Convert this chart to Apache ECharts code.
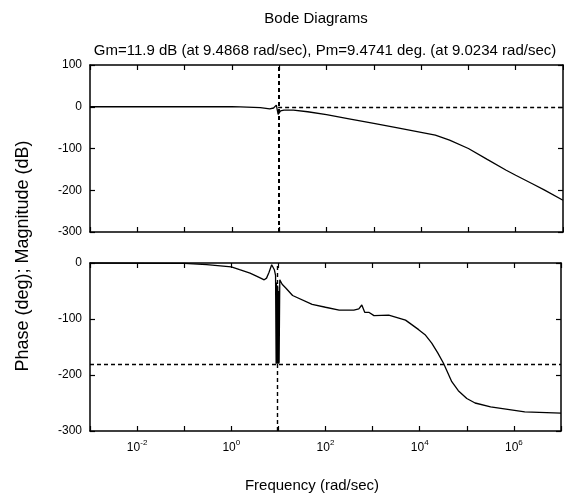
<!DOCTYPE html>
<html>
<head>
    <meta charset="utf-8">
    <title>Bode Diagrams</title>
    <script src="https://cdn.jsdelivr.net/npm/echarts@6/dist/echarts.min.js"></script>
    <style>
        html, body { margin: 0; padding: 0; background: #fff; }
        #container { width: 564px; height: 496px; }
    </style>
</head>
<body>
<div id="container"></div>
<script type="text/javascript">
    // magnitude curve (rad/sec, dB)
    var magFreq = [0.001, 0.1, 1, 1.5, 4, 6.3, 7.6, 8.7, 9.1, 9.5, 10, 10.7, 12.6, 20, 40, 100, 300, 1000, 3000, 2e4, 4e4, 1e5, 2.5e5, 6.3e5, 1e6, 2.3e6, 4e6, 1e7];
    var magDb = [0, 0, 0, -0.5, -2, -5, -3, 4, 5, -18, -14, -10, -8, -8, -12, -19, -29, -40, -50, -68, -80, -100, -126, -152, -164, -185, -199, -224];

    // phase curve (rad/sec, deg) - the wrap near 9.5 rad/sec is drawn as a dense zigzag
    var phaseFreq = [0.001, 0.1, 0.3, 1, 1.5, 2.5, 4, 5, 5.6, 6.3, 7.2, 7.5, 8.2, 8.7,
        8.95, 9.05, 9.15, 9.25, 9.35, 9.45, 9.55, 9.65, 9.75, 9.85, 9.95, 10.05, 10.15, 10.25, 10.35,
        10.7, 11.2, 12, 14.5, 20, 52, 100, 195, 400, 510, 590, 680, 830, 1070, 2200, 5000, 9500,
        1.3e4, 1.8e4, 2.4e4, 3.2e4, 4.8e4, 6.6e4, 1e5, 1.5e5, 3.2e5, 1.7e6, 1e7];
    var phaseDeg = [0, -0.5, -3, -7, -12, -18, -26, -30, -27, -17, -3, -1, -12, -22,
        -180, -35, -178, -45, -176, -60, -180, -40, -178, -90, -176, -50, -180, -100, -178,
        -30, -29, -38, -45, -58, -74, -79, -84, -84, -82, -75, -88, -88, -94, -93, -102, -119,
        -128, -143, -160, -179, -212, -228, -242, -250, -257, -266, -268];

    var gmFreq = 9.4868;
    var crossDb = 0;
    var crossDeg = -180;

    var decades = [-3, 7];          // frequency range, log10
    var labelDecades = [-2, 0, 2, 4, 6];
    var magTicks = [-300, 100];
    var phaseTicks = [-300, 0];

    function lg(f) { return Math.log10(f); }
    function pairs(xs, ys) {
        return xs.map(function (f, i) { return [lg(f), ys[i]]; });
    }

    var font = '"Liberation Sans", Arial, sans-serif';
    var black = '#000';

    function xAx(grid, pos, labels) {
        return {
            type: 'value', gridIndex: grid, position: pos,
            min: decades[0], max: decades[1], interval: 1,
            axisLine: { show: true, onZero: false, lineStyle: { color: black, width: 1.5 } },
            axisTick: { show: true, inside: true, length: 5, lineStyle: { color: black, width: 1.2 } },
            splitLine: { show: false },
            axisLabel: {
                show: labels, margin: 8, color: black,
                formatter: function (v) {
                    if (labelDecades.indexOf(v) < 0) return '';
                    return '{b|10}{s|' + v + '}';
                },
                rich: {
                    b: { fontFamily: font, fontSize: 12, color: black, verticalAlign: 'bottom' },
                    s: { fontFamily: font, fontSize: 8, color: black, verticalAlign: 'bottom', padding: [0, 0, 7, 0] }
                }
            }
        };
    }

    function yAx(grid, pos, range, labels) {
        return {
            type: 'value', gridIndex: grid, position: pos,
            min: range[0], max: range[1], interval: 100,
            axisLine: { show: true, onZero: false, lineStyle: { color: black, width: 1.5 } },
            axisTick: { show: true, inside: true, length: 5, lineStyle: { color: black, width: 1.2 } },
            splitLine: { show: false },
            axisLabel: { show: labels, margin: 8, color: black, fontFamily: font, fontSize: 12 }
        };
    }

    var dashed = { color: black, type: [4, 3], width: 1.4 };

    var chart = echarts.init(document.getElementById('container'));
    var option = {
        backgroundColor: '#fff',
        animation: false,
        title: [
            { text: 'Bode Diagrams', left: 311, top: 6, textAlign: 'center',
              textStyle: { fontFamily: font, fontSize: 15, fontWeight: 'normal', color: black } },
            { text: 'Gm=11.9 dB (at 9.4868 rad/sec), Pm=9.4741 deg. (at 9.0234 rad/sec)', left: 320, top: 38, textAlign: 'center',
              textStyle: { fontFamily: font, fontSize: 15, fontWeight: 'normal', color: black } }
        ],
        graphic: [
            { type: 'text', x: 23, y: 256, rotation: Math.PI / 2,
              style: { text: 'Phase (deg); Magnitude (dB)', font: '18px ' + font, fill: black,
                       textAlign: 'center', align: 'center', textVerticalAlign: 'middle', verticalAlign: 'middle' } },
            { type: 'text', x: 312, y: 486,
              style: { text: 'Frequency (rad/sec)', font: '15px ' + font, fill: black,
                       textAlign: 'center', align: 'center', textVerticalAlign: 'middle', verticalAlign: 'middle' } }
        ],
        grid: [
            { left: 90, right: 1, top: 65, height: 167 },
            { left: 90, right: 1, top: 263, height: 168 }
        ],
        xAxis: [
            xAx(0, 'bottom', false), xAx(0, 'top', false),
            xAx(1, 'bottom', true), xAx(1, 'top', false)
        ],
        yAxis: [
            yAx(0, 'left', magTicks, true), yAx(0, 'right', magTicks, false),
            yAx(1, 'left', phaseTicks, true), yAx(1, 'right', phaseTicks, false)
        ],
        series: [
            {
                type: 'line', xAxisIndex: 0, yAxisIndex: 0, symbol: 'none', silent: true,
                data: pairs(magFreq, magDb),
                lineStyle: { color: black, width: 1.3 },
                markLine: {
                    symbol: 'none', silent: true, label: { show: false },
                    lineStyle: dashed,
                    data: [
                        { xAxis: lg(gmFreq), lineStyle: { width: 2 } },
                        [{ coord: [lg(gmFreq), crossDb] }, { coord: [decades[1], crossDb] }]
                    ]
                }
            },
            {
                type: 'line', xAxisIndex: 2, yAxisIndex: 2, symbol: 'none', silent: true,
                data: pairs(phaseFreq, phaseDeg),
                lineStyle: { color: black, width: 1.3 },
                markLine: {
                    symbol: 'none', silent: true, label: { show: false },
                    lineStyle: dashed,
                    data: [
                        { yAxis: crossDeg },
                        { xAxis: lg(gmFreq) }
                    ]
                }
            }
        ]
    };
    chart.setOption(option);
</script>
</body>
</html>
